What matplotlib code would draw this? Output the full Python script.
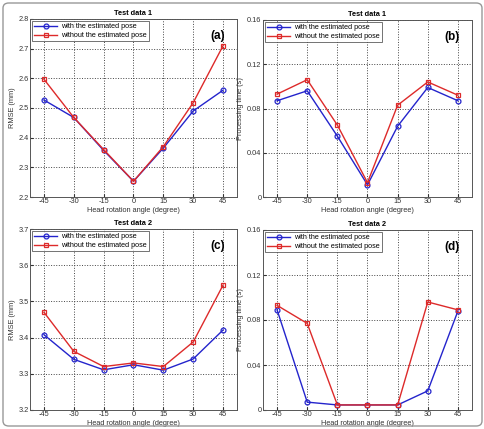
import matplotlib
matplotlib.use('Agg')
import matplotlib.pyplot as plt
from matplotlib.patches import FancyBboxPatch

plt.rcParams['font.family'] = ['Liberation Sans', 'DejaVu Sans']

angles = [-45, -30, -15, 0, 15, 30, 45]
angle_labels = ['-45', '-30', '-15', '0', '15', '30', '45']

rmse1_with = [2.527, 2.468, 2.357, 2.253, 2.365, 2.490, 2.560]
rmse1_without = [2.597, 2.468, 2.360, 2.253, 2.370, 2.518, 2.710]
time1_with = [0.087, 0.096, 0.055, 0.011, 0.064, 0.099, 0.087]
time1_without = [0.093, 0.106, 0.065, 0.013, 0.083, 0.104, 0.092]
rmse2_with = [3.408, 3.340, 3.311, 3.325, 3.310, 3.341, 3.421]
rmse2_without = [3.470, 3.362, 3.320, 3.330, 3.320, 3.388, 3.545]
time2_with = [0.089, 0.007, 0.0045, 0.0045, 0.0045, 0.017, 0.088]
time2_without = [0.093, 0.077, 0.0045, 0.0045, 0.0045, 0.096, 0.089]

W, H = 485, 429
fig = plt.figure(figsize=(W / 100, H / 100), dpi=100)

# frame around the whole figure
fig.patches.append(FancyBboxPatch((3 / W, 3 / H), 1 - 6 / W, 1 - 6 / H,
                                  boxstyle='round,pad=0,rounding_size=0.012',
                                  transform=fig.transFigure, fill=False,
                                  edgecolor='#999999', linewidth=1.0))

def px_axes(l, t, r, b):
    return fig.add_axes([l / W, 1 - b / H, (r - l) / W, (b - t) / H])

panels = [
    ((30, 19, 237, 197), rmse1_with, rmse1_without, 'RMSE (mm)', 'Test data 1', '(a)',
     (2.2, 2.8), [2.2, 2.3, 2.4, 2.5, 2.6, 2.7, 2.8], ['2.2', '2.3', '2.4', '2.5', '2.6', '2.7', '2.8']),
    ((263, 20, 472, 197), time1_with, time1_without, 'Processing time (s)', 'Test data 1', '(b)',
     (0, 0.16), [0, 0.04, 0.08, 0.12, 0.16], ['0', '0.04', '0.08', '0.12', '0.16']),
    ((30, 229, 237, 410), rmse2_with, rmse2_without, 'RMSE (mm)', 'Test data 2', '(c)',
     (3.2, 3.7), [3.2, 3.3, 3.4, 3.5, 3.6, 3.7], ['3.2', '3.3', '3.4', '3.5', '3.6', '3.7']),
    ((263, 230, 472, 410), time2_with, time2_without, 'Processing time (s)', 'Test data 2', '(d)',
     (0, 0.16), [0, 0.04, 0.08, 0.12, 0.16], ['0', '0.04', '0.08', '0.12', '0.16']),
]

for box, s_with, s_without, ylab, title, tag, ylim, yt, ytl in panels:
    ax = px_axes(*box)
    ax.plot(angles, s_with, color='#2424cc', marker='o', markersize=3.5, markerfacecolor='none',
            markeredgewidth=0.9, linewidth=1.0, label='with the estimated pose')
    ax.plot(angles, s_without, color='#dd2a2a', marker='s', markersize=3.5, markerfacecolor='none',
            markeredgewidth=0.9, linewidth=1.0, label='without the estimated pose')
    ax.set_xlim(-52, 52)
    ax.set_ylim(*ylim)
    ax.set_xticks(angles)
    ax.set_xticklabels(angle_labels)
    ax.set_yticks(yt)
    ax.set_yticklabels(ytl)
    ax.grid(True, linestyle=':', color='#444444', linewidth=0.7)
    ax.tick_params(labelsize=5.3, direction='in', length=2, pad=1, colors='#333333')
    ax.set_xlabel('Head rotation angle (degree)', fontsize=5.3, labelpad=1, color='#333333')
    ax.set_ylabel(ylab, fontsize=5.3, labelpad=2, color='#333333')
    ax.set_title(title, fontsize=5.3, fontweight='bold', pad=3)
    for sp in ax.spines.values():
        sp.set_linewidth(0.7)
        sp.set_color('#555555')
    ax.text(0.94, 0.94, tag, transform=ax.transAxes, fontsize=8.5, fontweight='bold',
            ha='right', va='top')
    leg = ax.legend(loc='upper left', fontsize=5.2, frameon=True, fancybox=False,
                    borderpad=0.3, handlelength=3.2, handletextpad=0.5, labelspacing=0.25,
                    borderaxespad=0.3)
    leg.get_frame().set_edgecolor('#333333')
    leg.get_frame().set_linewidth(0.6)

fig.savefig('out.png', dpi=100)
